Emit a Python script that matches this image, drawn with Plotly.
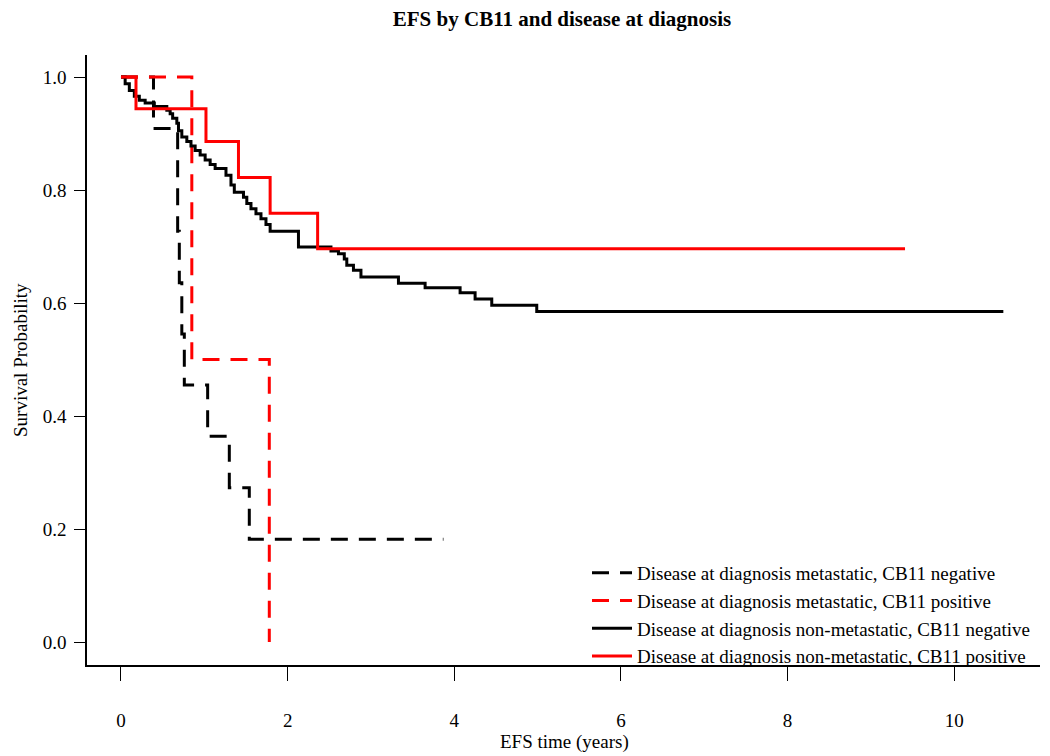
import plotly.graph_objects as go

# ---- data ----
met_neg_times = [0.39, 0.68, 0.70, 0.73, 0.76, 1.04, 1.30, 1.54]
met_neg_surv = [0.909, 0.727, 0.636, 0.545, 0.455, 0.364, 0.273, 0.182]
met_neg_end = 3.87

met_pos_times = [0.85, 1.78]
met_pos_surv = [0.5, 0.0]
met_pos_end = 1.78

non_neg_times = [0.05, 0.10, 0.16, 0.22, 0.29, 0.40, 0.55, 0.59, 0.62, 0.67, 0.69, 0.73,
                 0.79, 0.84, 0.89, 0.95, 1.01, 1.07, 1.13, 1.26, 1.32, 1.36, 1.47, 1.51,
                 1.56, 1.62, 1.68, 1.74, 1.79, 2.13, 2.52, 2.61, 2.68, 2.71, 2.79, 2.88,
                 3.33, 3.65, 4.07, 4.25, 4.45, 4.99]
non_neg_surv = [0.988, 0.976, 0.966, 0.959, 0.954, 0.948, 0.941, 0.935, 0.927, 0.918, 0.905, 0.894,
                0.886, 0.878, 0.870, 0.862, 0.853, 0.845, 0.838, 0.826, 0.809, 0.796, 0.787, 0.776,
                0.767, 0.758, 0.749, 0.739, 0.727, 0.699, 0.692, 0.687, 0.678, 0.667, 0.658, 0.646,
                0.635, 0.627, 0.618, 0.607, 0.596, 0.585]
non_neg_end = 10.59

non_pos_times = [0.18, 1.02, 1.41, 1.79, 2.36]
non_pos_surv = [0.944, 0.886, 0.822, 0.759, 0.696]
non_pos_end = 9.41

series_names = [
    "Disease at diagnosis metastatic, CB11 negative",
    "Disease at diagnosis metastatic, CB11 positive",
    "Disease at diagnosis non-metastatic, CB11 negative",
    "Disease at diagnosis non-metastatic, CB11 positive",
]

x_ticks = [0, 2, 4, 6, 8, 10]
y_ticks = [0.0, 0.2, 0.4, 0.6, 0.8, 1.0]

FONT = "Liberation Serif, Times New Roman, serif"

# page offset of the plot (body margin is 8px)
OFF = 8
PX_L, PX_R, PX_T, PX_B = 87, 1040, 55, 665
PW, PH = PX_R - PX_L, PX_B - PX_T
W, H = 1050 - OFF, 756 - OFF


def km(times, surv, end):
    xs = [0.0] + list(times) + [end]
    ys = [1.0] + list(surv) + [surv[-1]]
    return xs, ys


def px_x(p):
    return (p - PX_L) / PW


def px_y(p):
    return (PX_B - p) / PH


series = [
    (km(met_neg_times, met_neg_surv, met_neg_end), "black", "17px,11px"),
    (km(met_pos_times, met_pos_surv, met_pos_end), "#FF0000", "17px,11px"),
    (km(non_neg_times, non_neg_surv, non_neg_end), "black", "solid"),
    (km(non_pos_times, non_pos_surv, non_pos_end), "#FF0000", "solid"),
]

fig = go.Figure()
for (xy, color, dash), name in zip(series, series_names):
    fig.add_trace(go.Scatter(
        x=xy[0], y=xy[1], mode="lines", name=name,
        line=dict(color=color, width=3, dash=dash, shape="hv"),
    ))

fig.update_layout(
    width=W, height=H,
    margin=dict(l=PX_L - OFF, r=W - (PX_R - OFF), t=PX_T - OFF, b=H - (PX_B - OFF)),
    paper_bgcolor="white", plot_bgcolor="white",
    font=dict(family=FONT, size=19, color="black"),
    title=dict(text="<b>EFS by CB11 and disease at diagnosis</b>",
               x=(562 - OFF) / W, xanchor="center", y=1 - (19 - OFF) / H, yanchor="middle",
               font=dict(family=FONT, size=21, color="black")),
    showlegend=True,
    legend=dict(x=px_x(587), xanchor="left", y=px_y(554), yanchor="top",
                bgcolor="rgba(0,0,0,0)", borderwidth=0, font=dict(family=FONT, size=19),
                tracegroupgap=0, itemwidth=40),
    xaxis=dict(range=[-0.408, 11.03], tickvals=x_ticks, ticks="outside", ticklen=14,
               tickwidth=1, tickcolor="black", showline=True, linecolor="black",
               linewidth=1.5, mirror=False, showgrid=False, zeroline=False, automargin=False,
               ticklabelstandoff=23, tickfont=dict(family=FONT, size=19)),
    yaxis=dict(range=[-0.0407, 1.039], tickvals=y_ticks, tickformat=".1f", ticks="outside",
               ticklen=11, tickwidth=1, tickcolor="black", showline=True, linecolor="black",
               linewidth=1.5, mirror=False, showgrid=False, zeroline=False, automargin=False,
               ticklabelstandoff=4, tickfont=dict(family=FONT, size=19)),
    annotations=[
        dict(text="EFS time (years)", xref="paper", yref="paper",
             x=px_x(564), y=px_y(742), xanchor="center", yanchor="middle",
             showarrow=False, font=dict(family=FONT, size=19)),
        dict(text="Survival Probability", xref="paper", yref="paper",
             x=px_x(20), y=px_y(360), xanchor="center", yanchor="middle",
             textangle=-90, showarrow=False, font=dict(family=FONT, size=19)),
    ],
)

fig.write_html("out.html")
